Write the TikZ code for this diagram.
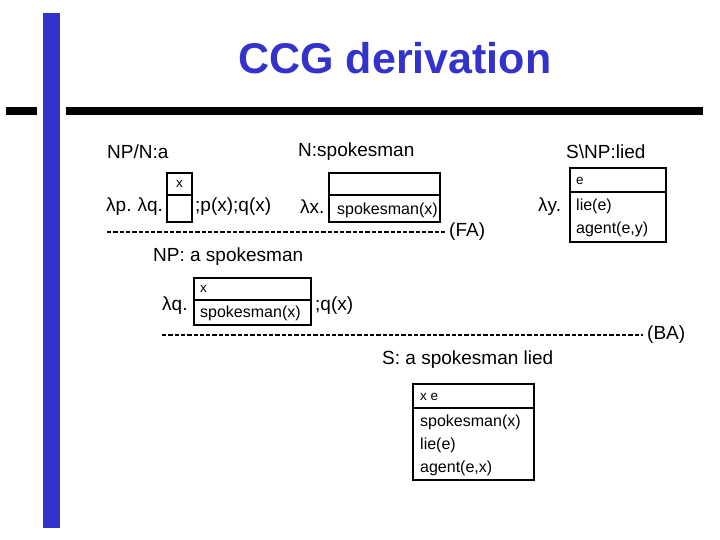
\documentclass[tikz,border=0pt]{standalone}
\usepackage{fontspec}
\setmainfont{Liberation Sans}
\definecolor{ccgblue}{RGB}{51,51,204}
\newcommand{\lbl}{\fontsize{19}{22}\selectfont}
\newcommand{\boxtxt}{\fontsize{16}{19}\selectfont}
\newcommand{\reftxt}{\fontsize{13.5}{16}\selectfont}
\tikzset{
  txt/.style={inner sep=0pt,anchor=west},
  drsbox/.style={line width=1.6pt},
  rulerow/.style={line width=1.9pt,dash pattern=on 4.3pt off 2pt}
}
\begin{document}
\begin{tikzpicture}[x=1pt,y=-1pt]
\useasboundingbox (0,0) rectangle (720,540);
%\draw[step=10,gray,very thin] (0,0) grid (720,540); %background grid

% slide frame
\fill[ccgblue] (43,13) rectangle (60,528);
\fill[black] (6,107) rectangle (37,115);
\fill[black] (66,107) rectangle (703,115);
\node (title) at (395,58) {\fontsize{43}{50}\selectfont\bfseries\color{ccgblue}CCG derivation};

% lexical entries
\node[txt] (det) at (107,152) {\lbl NP/N:a};
\node[txt] (noun) at (298,152) {\lbl N:spokesman};
\node[txt] (verb) at (566,152) {\lbl S\textbackslash NP:lied};

% a
\node[txt] (lamdet) at (106,207) {\lbl λp.\kern-1pt{} λq.};
\draw[drsbox] (167,173) rectangle (192,222);
\draw[drsbox] (167,195) -- (192,195);
\node (refx) at (179.5,184) {\reftxt x};
\node[txt] (seqdet) at (195,207) {\lbl ;p(x);q(x)};

% spokesman
\node[txt] (lamnoun) at (300,207) {\lbl λx.};
\draw[drsbox] (329,173) rectangle (440,222);
\draw[drsbox] (329,195) -- (440,195);
\node[txt] (condnoun) at (337,210) {\boxtxt spokesman(x)};

% lied
\node[txt] (lamverb) at (538,207) {\lbl λy.};
\draw[drsbox] (570,168) rectangle (666,242);
\draw[drsbox] (570,192) -- (666,192);
\node[txt] (refe) at (576,181) {\reftxt e};
\node[txt] (condlie) at (576,206) {\boxtxt lie(e)};
\node[txt] (condag) at (576,229) {\boxtxt agent(e,y)};

% forward application
\draw[rulerow] (107,232) -- (445,232);
\node[txt] (fa) at (449,232) {\lbl (FA)};

% NP: a spokesman
\node[txt] (np) at (153,257) {\lbl NP: a spokesman};
\node[txt] (lamnp) at (162,306) {\lbl λq.};
\draw[drsbox] (194,278) rectangle (311,325);
\draw[drsbox] (194,300) -- (311,300);
\node[txt] (refnp) at (200,289) {\reftxt x};
\node[txt] (condnp) at (200,313) {\boxtxt spokesman(x)};
\node[txt] (seqnp) at (315,306) {\lbl ;q(x)};

% backward application
\draw[rulerow] (162,335) -- (643,335);
\node[txt] (ba) at (647,335) {\lbl (BA)};

% S: a spokesman lied
\node[txt] (sent) at (382,360) {\lbl S: a spokesman lied};
\draw[drsbox] (413,384) rectangle (534,480);
\draw[drsbox] (413,408) -- (534,408);
\node[txt] (refs) at (420,397) {\reftxt x e};
\node[txt] (conds1) at (420,422) {\boxtxt spokesman(x)};
\node[txt] (conds2) at (420,445) {\boxtxt lie(e)};
\node[txt] (conds3) at (420,468) {\boxtxt agent(e,x)};
\end{tikzpicture}
\end{document}
